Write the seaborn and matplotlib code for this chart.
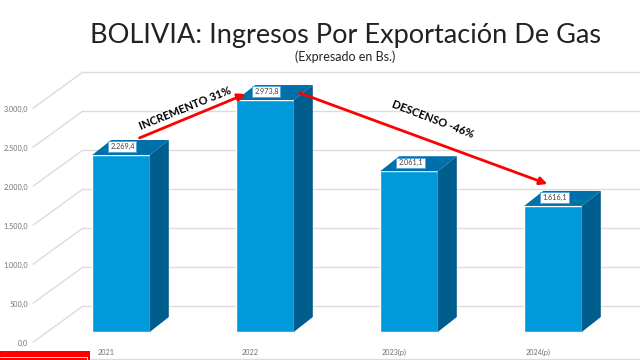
import matplotlib
matplotlib.use("Agg")
import matplotlib.pyplot as plt
import seaborn as sns
import pandas as pd
from matplotlib.patches import Polygon, Rectangle

# datos
years = ["2021", "2022", "2023(p)", "2024(p)"]
values = [2269.4, 2973.8, 2061.1, 1616.1]
value_labels = ["2.269,4", "2.973,8", "2.061,1", "1.616,1"]
y_ticks = [0, 500, 1000, 1500, 2000, 2500, 3000]
y_tick_labels = ["0,0", "500,0", "1.000,0", "1.500,0", "2.000,0", "2.500,0", "3.000,0"]

df = pd.DataFrame({"year": years, "value": values})

sns.set_style("white")
plt.rcParams["font.family"] = ["Lato", "DejaVu Sans"]

fig = plt.figure(figsize=(6.4, 3.6), dpi=100)
ax = fig.add_axes([0, 0, 1, 1])

# colores
front = "#0099DB"
top = "#0070AB"
side = "#005E8E"
grid = "#DCDCDC"

# profundidad 3D (en unidades de datos)
dx, dy = 0.132, 192
back_off = 333     # pared del fondo
label_off = -141   # plano de etiquetas

# cuadricula: pared del fondo + diagonales del piso lateral
for t, lab in zip(y_ticks, y_tick_labels):
    ax.plot([-0.264, 3.7], [t + back_off, t + back_off], color=grid, lw=1, zorder=0)
    ax.plot([-0.611, -0.264], [t + label_off + 10, t + back_off], color=grid, lw=1, zorder=0)
    ax.text(-0.646, t + label_off, lab, ha="right", va="center", fontsize=5.2, color="#707070")

sns.barplot(data=df, x="year", y="value", order=years, color=front, width=0.4,
            saturation=1, ax=ax, zorder=2)

for i, p in enumerate(ax.patches):
    x0 = p.get_x()
    x1 = x0 + p.get_width()
    h = p.get_height()
    ax.add_patch(Polygon([(x1, 0), (x1 + dx, dy), (x1 + dx, h + dy), (x1, h)],
                         closed=True, fc=side, ec="none", zorder=2))
    ax.add_patch(Polygon([(x0, h), (x0 + dx, h + dy), (x1 + dx, h + dy), (x1, h)],
                         closed=True, fc=top, ec="none", zorder=2))
    ax.text(x0 + p.get_width() / 2 + 0.01, h + dy / 2 + 10, value_labels[i], ha="center", va="center",
            fontsize=5.2, color="#404040", zorder=5,
            bbox=dict(boxstyle="square,pad=0.25", fc="white", ec="#55A8DD", lw=0.7))
    ax.text(i - 0.105, -260, years[i], ha="center", va="center", fontsize=5.2, color="#707070")

# flechas
ax.annotate("", xy=(0.882, values[1] + 90), xytext=(0.111, values[0] + 205),
            arrowprops=dict(arrowstyle="-|>", color="#FF0000", lw=2, mutation_scale=11), zorder=6)
ax.annotate("", xy=(2.979, values[3] + 269), xytext=(1.222, values[1] + 103),
            arrowprops=dict(arrowstyle="-|>", color="#FF0000", lw=2, mutation_scale=11), zorder=6)
ax.text(0.444, 2872, "INCREMENTO 31%", rotation=22, ha="center", va="center",
        fontsize=8, fontweight="bold", color="black", zorder=6)
ax.text(2.167, 2731, "DESCENSO -46%", rotation=-21, ha="center", va="center",
        fontsize=8, fontweight="bold", color="black", zorder=6)

ax.set_xlim(-121 / 144, (640 - 121) / 144)
ax.set_ylim(-359, 4256)
ax.axis("off")

# titulo
fig.text(0.54, 0.902, "BOLIVIA: Ingresos Por Exportación De Gas", ha="center", va="center",
         fontsize=19.5, fontweight="normal", color="#222222")
fig.text(0.54, 0.842, "(Expresado en Bs.)", ha="center", va="center", fontsize=9, color="#222222")

# marco inferior
fig.add_artist(plt.Line2D([90 / 640, 1], [1.5 / 360, 1.5 / 360], color=grid, lw=1))
fig.add_artist(Rectangle((0, 0), 90 / 640, 9 / 360, fc="#FF0000", ec="none"))
fig.add_artist(plt.Line2D([0, 87 / 640, 87 / 640], [3 / 360, 3 / 360, 0], color="white", lw=0.6))

fig.savefig("out.png", dpi=100)
